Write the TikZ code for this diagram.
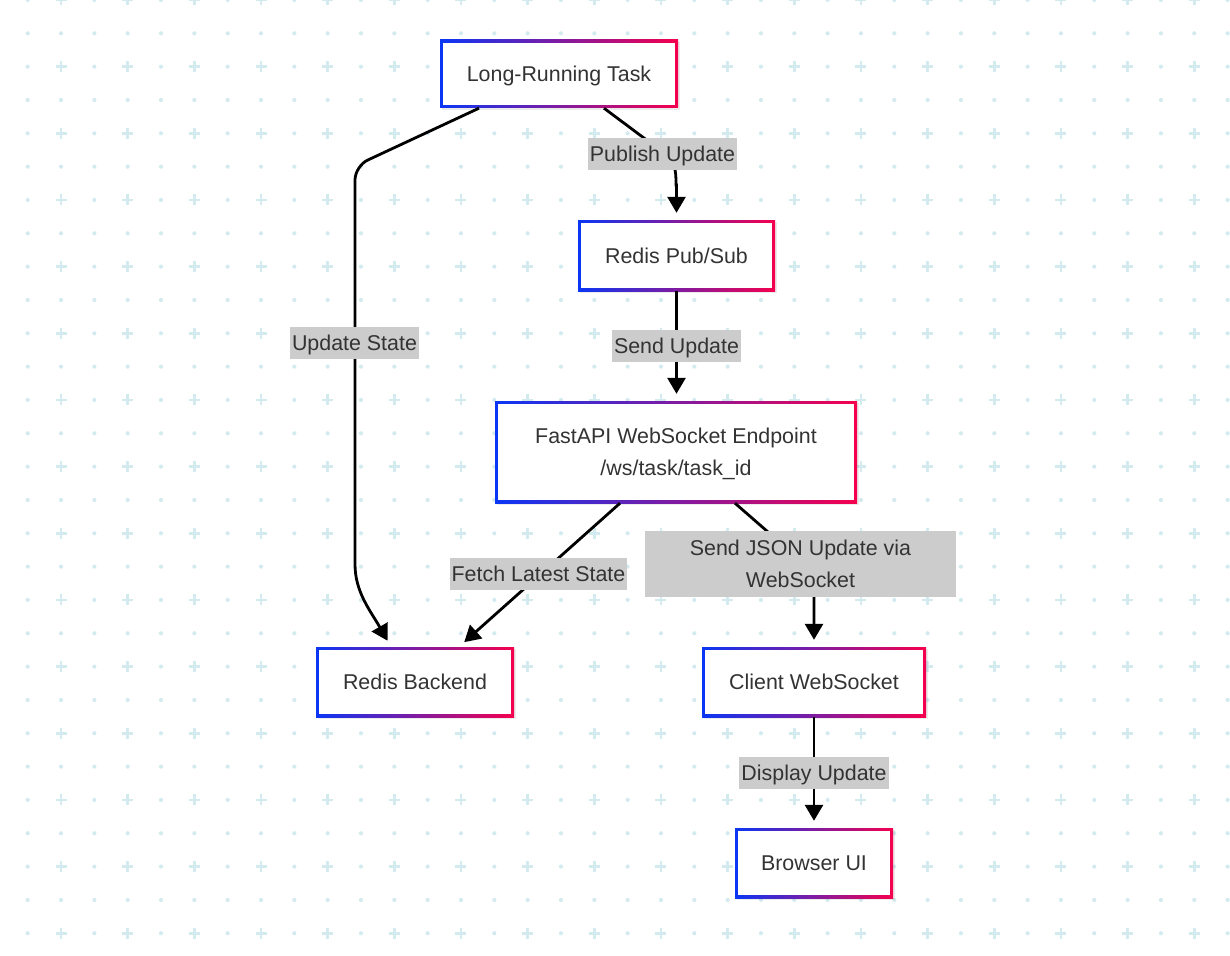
\documentclass[tikz,border=0pt]{standalone}
\usepackage{fontspec}
\setmainfont{Liberation Sans}
\usetikzlibrary{arrows.meta,shadows}
\definecolor{ink}{HTML}{333333}
\definecolor{lblgray}{HTML}{CCCCCC}
\definecolor{edgeblue}{HTML}{0A36F5}
\definecolor{edgered}{HTML}{F5004E}
\definecolor{dotcol}{HTML}{D3EAEF}
\newcommand\diagfont{\fontsize{21.4}{31.5}\selectfont}
\newcommand\tallstrut{\rule{0pt}{19.5pt}}
\begin{document}
\begin{tikzpicture}[x=1pt,y=-1pt,
	box/.style={fill=white, inner sep=0pt, text=ink, font=\diagfont, align=center,
		drop shadow={opacity=0.16, shadow xshift=2pt, shadow yshift=-2pt},
		path picture={
			\shade[left color=edgeblue, right color=edgered] (path picture bounding box.south west) rectangle (path picture bounding box.north east);
			\fill[white] ([shift={(3pt,3pt)}]path picture bounding box.south west) rectangle ([shift={(-3pt,-3pt)}]path picture bounding box.north east);
		}},
	oneline/.style={text height=19.5pt, text depth=4.5pt},
	lbl/.style={fill=lblgray, text=ink, font=\diagfont, inner xsep=2pt, inner ysep=0pt, minimum height=32pt, align=center},
	flow/.style={draw=black, line width=2.8pt, -{Triangle[length=16pt,width=18pt]}, shorten >=7pt},
	gridplus/.style={draw=dotcol, line width=2.5pt},
	griddot/.style={fill=dotcol}]
			\useasboundingbox (0,0) rectangle (1230,955);
			\begin{scope}
				\clip (0,0) rectangle (1230,955);
				\foreach \i in {0,...,36}{
					\foreach \j in {0,...,28}{
						\pgfmathtruncatemacro{\isplus}{and(isodd(\i),iseven(\j))}
						\ifnum\isplus=1
							\draw[gridplus] ({27.7+33.33*\i-5.5},{33.33*\j}) -- ({27.7+33.33*\i+5.5},{33.33*\j});
							\draw[gridplus] ({27.7+33.33*\i},{33.33*\j-5.5}) -- ({27.7+33.33*\i},{33.33*\j+5.5});
						\else
							\fill[griddot] ({27.7+33.33*\i},{33.33*\j}) circle(2.1pt);
						\fi
					}
				}
			\end{scope}
			\node[box, oneline, minimum width=238pt, minimum height=68pt] (task) at (559,74) {Long-Running Task};
			\node[box, oneline, minimum width=197pt, minimum height=71pt] (pubsub) at (676.5,255.5) {Redis Pub/Sub};
			\node[box, minimum width=362pt, minimum height=102pt] (wsend) at (676,452) {\tallstrut FastAPI WebSocket Endpoint\\/ws/task/task\_id};
			\node[box, oneline, minimum width=198pt, minimum height=70pt] (backend) at (415,682) {Redis Backend};
			\node[box, oneline, minimum width=224pt, minimum height=70pt] (client) at (814,682) {Client WebSocket};
			\node[box, oneline, minimum width=158pt, minimum height=70pt] (browser) at (814,863) {Browser UI};
			\draw[flow, rounded corners=14pt] ([xshift=-80pt]task.south) -- (355,166) -- (355,550) .. controls (355,592) and (370,610) .. ([xshift=-24pt]backend.north);
			\draw[flow] ([xshift=45pt]task.south) -- (660,150) .. controls (676,162) and (676,170) .. (676,185) -- (pubsub.south |- 0,185) -- (pubsub.north);
			\draw[flow] (pubsub.south) -- (pubsub.south |- wsend.north);
			\draw[flow] ([xshift=-56pt]wsend.south) -- ([xshift=44pt]backend.north);
			\draw[flow] ([xshift=59pt]wsend.south) -- (768,532) .. controls (800,560) and (814,575) .. (814,600) -- (client.north);
			\draw[flow] (client.south) -- (browser.north);
			\node[lbl, oneline, minimum width=127pt] (lblstate) at (354.5,343) {Update State};
			\node[lbl, oneline, minimum width=149pt] (lblpublish) at (662.5,154) {Publish Update};
			\node[lbl, oneline, minimum width=127pt] (lblsend) at (676.5,345.5) {Send Update};
			\node[lbl, oneline, minimum width=177pt] (lblfetch) at (538.5,573.5) {Fetch Latest State};
			\node[lbl, minimum width=311pt, minimum height=66pt] (lbljson) at (800.5,564) {Send JSON Update via\\WebSocket};
			\node[lbl, oneline, minimum width=148pt] (lbldisplay) at (814,773) {Display Update};
		\end{tikzpicture}
\end{document}
